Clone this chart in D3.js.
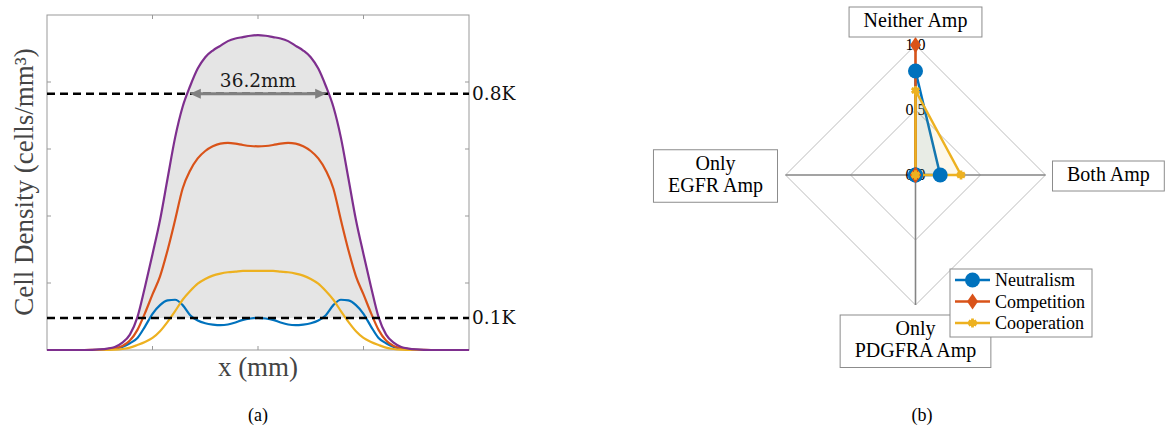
<!DOCTYPE html>
<html>
<head>
<meta charset="utf-8">
<script src="https://cdn.jsdelivr.net/npm/d3@7"></script>
<style>
  body { margin: 0; background: #fff; }
  svg { display: block; }
</style>
</head>
<body>
<svg id="chart" width="1166" height="429"></svg>
<script>
// ---- panel (a): density profiles along x (mm), density in plot units (K = 4.78)
const positions = [-56, -50, -46, -44, -42, -40, -38, -36, -34, -32, -30, -28, -26, -24, -22, -20, -18, -16, -14, -12, -10, -8, -6, -4, -2, 0,
  2, 4, 6, 8, 10, 12, 14, 16, 18, 20, 22, 24, 26, 28, 30, 32, 34, 36, 38, 40, 42, 44, 46, 50, 56];
const blueDensity = [0, 0, 0, 0, 0.002, 0.006, 0.02, 0.045, 0.1, 0.18, 0.35, 0.54, 0.67, 0.74, 0.75, 0.67, 0.52, 0.44, 0.40, 0.38, 0.37, 0.38, 0.41, 0.45, 0.47, 0.48,
  0.47, 0.45, 0.41, 0.38, 0.37, 0.38, 0.40, 0.44, 0.52, 0.67, 0.75, 0.74, 0.67, 0.54, 0.35, 0.18, 0.1, 0.045, 0.02, 0.006, 0.002, 0, 0, 0, 0];
const orangeDensity = [0, 0, 0, 0.001, 0.004, 0.012, 0.028, 0.06, 0.14, 0.3, 0.55, 0.83, 1.1, 1.49, 1.94, 2.41, 2.68, 2.86, 2.97, 3.04, 3.08, 3.09, 3.08, 3.06, 3.045, 3.04,
  3.045, 3.06, 3.08, 3.09, 3.08, 3.04, 2.97, 2.86, 2.68, 2.41, 1.94, 1.49, 1.1, 0.83, 0.55, 0.3, 0.14, 0.06, 0.028, 0.012, 0.004, 0.001, 0, 0, 0];
const yellowDensity = [0, 0, 0, 0, 0, 0.002, 0.005, 0.015, 0.035, 0.075, 0.12, 0.18, 0.28, 0.42, 0.58, 0.75, 0.88, 0.99, 1.06, 1.11, 1.14, 1.16, 1.17, 1.18, 1.18, 1.18,
  1.18, 1.18, 1.17, 1.16, 1.14, 1.11, 1.06, 0.99, 0.88, 0.75, 0.58, 0.42, 0.28, 0.18, 0.12, 0.075, 0.035, 0.015, 0.005, 0.002, 0, 0, 0, 0, 0];
const totalDensity = [0, 0, 0, 0.002, 0.008, 0.02, 0.045, 0.11, 0.23, 0.49, 0.94, 1.43, 1.94, 2.56, 3.17, 3.63, 3.94, 4.2, 4.37, 4.47, 4.54, 4.61, 4.65, 4.67, 4.69, 4.70,
  4.69, 4.67, 4.65, 4.61, 4.54, 4.47, 4.37, 4.2, 3.94, 3.63, 3.17, 2.56, 1.94, 1.43, 0.94, 0.49, 0.23, 0.11, 0.045, 0.02, 0.008, 0.002, 0, 0, 0];
const capacityK = 4.78;
const thresholds = [0.8, 0.1];
const thresholdLabels = ['0.8K', '0.1K'];
const xTicks = [-28, 0, 28];
const yTicks = [1, 2, 3, 4];
const widthLabel = '36.2mm';
const widthSpan = [-18.1, 18.1];

// ---- panel (b): radar
const radarAxes = ['Neither Amp', 'Both Amp', 'Only PDGFRA Amp', 'Only EGFR Amp'];
const neutralism = [0.8, 0.19, 0, 0];
const competition = [1.0, 0, 0, 0];
const cooperation = [0.65, 0.35, 0, 0];
const radarLevels = [0.5, 1.0];
const radarTicks = [0, 0.5, 1.0];

const BLUE = '#0072BD', ORANGE = '#D95319', YELLOW = '#EDB120', PURPLE = '#7E2F8E';
const SERIF = '"Liberation Serif", "Times New Roman", Tinos, Times, "DejaVu Serif", serif';
const SLAB = '"DejaVu Serif", serif';

const svg = d3.select('#chart');
svg.append('rect').attr('width', 1166).attr('height', 429).attr('fill', '#fff');

// ================= panel (a) =================
const box = { left: 47, right: 469, top: 15, bottom: 350 };
const x = d3.scaleLinear().domain([-56, 56]).range([box.left, box.right]);
const y = d3.scaleLinear().domain([0, 5]).range([box.bottom, box.top]);

const pa = svg.append('g');

// shaded region: under total curve, above 0.1K
pa.append('clipPath').attr('id', 'aboveLow')
  .append('rect')
  .attr('x', box.left).attr('y', box.top)
  .attr('width', box.right - box.left)
  .attr('height', y(0.1 * capacityK) - box.top);

const area = d3.area()
  .x((d, i) => x(positions[i]))
  .y0(y(0))
  .y1(d => y(d))
  .curve(d3.curveMonotoneX);

pa.append('path')
  .datum(totalDensity)
  .attr('d', area)
  .attr('fill', '#e5e5e5')
  .attr('clip-path', 'url(#aboveLow)');

// axis box and inward ticks
const axisColor = '#999';
pa.append('rect')
  .attr('x', box.left).attr('y', box.top)
  .attr('width', box.right - box.left).attr('height', box.bottom - box.top)
  .attr('fill', 'none').attr('stroke', axisColor).attr('stroke-width', 1);

xTicks.forEach(t => {
  pa.append('line').attr('x1', x(t)).attr('x2', x(t)).attr('y1', box.bottom).attr('y2', box.bottom - 4)
    .attr('stroke', axisColor);
  pa.append('line').attr('x1', x(t)).attr('x2', x(t)).attr('y1', box.top).attr('y2', box.top + 4)
    .attr('stroke', axisColor);
});
yTicks.forEach(t => {
  pa.append('line').attr('x1', box.left).attr('x2', box.left + 4).attr('y1', y(t)).attr('y2', y(t))
    .attr('stroke', axisColor);
  pa.append('line').attr('x1', box.right).attr('x2', box.right - 4).attr('y1', y(t)).attr('y2', y(t))
    .attr('stroke', axisColor);
});

const line = d3.line()
  .x((d, i) => x(positions[i]))
  .y(d => y(d))
  .curve(d3.curveMonotoneX);

[[blueDensity, BLUE], [orangeDensity, ORANGE], [yellowDensity, YELLOW], [totalDensity, PURPLE]]
  .forEach(([series, color]) => {
    pa.append('path')
      .datum(series)
      .attr('d', line)
      .attr('fill', 'none')
      .attr('stroke', color)
      .attr('stroke-width', 2.2);
  });

// threshold lines
thresholds.forEach((f, i) => {
  const yy = y(f * capacityK);
  pa.append('line')
    .attr('x1', box.left).attr('x2', box.right)
    .attr('y1', yy).attr('y2', yy)
    .attr('stroke', '#000').attr('stroke-width', 2.4)
    .attr('stroke-dasharray', '8,5');
  pa.append('text')
    .attr('x', box.right + 3).attr('y', yy + 6.5)
    .attr('font-family', SLAB)
    .attr('font-size', 18.5)
    .attr('fill', '#111')
    .text(thresholdLabels[i]);
});

// width arrow at 0.8K
const ya = y(0.8 * capacityK);
const xa0 = x(widthSpan[0]), xa1 = x(widthSpan[1]);
const head = 11, hw = 5;
pa.append('line')
  .attr('x1', xa0 + head - 1).attr('x2', xa1 - head + 1)
  .attr('y1', ya).attr('y2', ya)
  .attr('stroke', '#808080').attr('stroke-width', 3);
pa.append('path')
  .attr('d', `M${xa0},${ya}L${xa0 + head},${ya - hw}L${xa0 + head},${ya + hw}Z`)
  .attr('fill', '#808080');
pa.append('path')
  .attr('d', `M${xa1},${ya}L${xa1 - head},${ya - hw}L${xa1 - head},${ya + hw}Z`)
  .attr('fill', '#808080');
pa.append('text')
  .attr('x', x(0)).attr('y', 87)
  .attr('text-anchor', 'middle')
  .attr('font-family', SLAB)
  .attr('font-size', 18.5)
  .attr('fill', '#1a1a1a')
  .text(widthLabel);

// axis labels
pa.append('text')
  .attr('x', x(0)).attr('y', 376)
  .attr('text-anchor', 'middle')
  .attr('font-family', SERIF)
  .attr('font-size', 27)
  .attr('fill', '#444')
  .text('x (mm)');
pa.append('text')
  .attr('transform', 'translate(33,182) rotate(-90)')
  .attr('text-anchor', 'middle')
  .attr('font-family', SERIF)
  .attr('font-size', 27)
  .attr('fill', '#444')
  .text('Cell Density (cells/mm³)');

pa.append('text')
  .attr('x', x(0)).attr('y', 421)
  .attr('text-anchor', 'middle')
  .attr('font-family', SERIF)
  .attr('font-size', 18)
  .text('(a)');

// ================= panel (b) =================
const cx = 915.5, cy = 175, R = 130;
const r = d3.scaleLinear().domain([0, 1]).range([0, R]);
const angle = i => -Math.PI / 2 + i * Math.PI / 2;
const pt = (v, i) => [cx + r(v) * Math.cos(angle(i)), cy + r(v) * Math.sin(angle(i))];

const pb = svg.append('g');

radarLevels.forEach(lv => {
  pb.append('path')
    .attr('d', d3.line()(radarAxes.map((a, i) => pt(lv, i))) + 'Z')
    .attr('fill', 'none').attr('stroke', '#bdbdbd').attr('stroke-width', 1);
});
radarAxes.forEach((a, i) => {
  const [px, py] = pt(1, i);
  pb.append('line').attr('x1', cx).attr('y1', cy).attr('x2', px).attr('y2', py)
    .attr('stroke', '#858585').attr('stroke-width', 1.6);
});

radarTicks.forEach(t => {
  pb.append('text')
    .attr('x', cx).attr('y', cy - r(t) + 5)
    .attr('text-anchor', 'middle')
    .attr('font-family', SERIF)
    .attr('font-size', 16)
    .text(t.toFixed(1));
});

const asterisk = d3.symbolAsterisk || d3.symbolCross;
const seriesDefs = [
  { name: 'Neutralism', values: neutralism, color: BLUE, marker: 'circle' },
  { name: 'Competition', values: competition, color: ORANGE, marker: 'diamond' },
  { name: 'Cooperation', values: cooperation, color: YELLOW, marker: 'asterisk' }
];

function drawMarker(g, kind, color, px, py, scale) {
  if (kind === 'circle') {
    g.append('circle').attr('cx', px).attr('cy', py).attr('r', 7.5 * scale).attr('fill', color);
  } else if (kind === 'diamond') {
    const h = 8 * scale, w = 5.5 * scale;
    g.append('path')
      .attr('d', `M${px},${py - h}L${px + w},${py}L${px},${py + h}L${px - w},${py}Z`)
      .attr('fill', color);
  } else {
    g.append('circle').attr('cx', px).attr('cy', py).attr('r', 3.2 * scale).attr('fill', color);
    g.append('path')
      .attr('transform', `translate(${px},${py})`)
      .attr('d', d3.symbol().type(asterisk).size(55 * scale * scale)())
      .attr('fill', 'none').attr('stroke', color).attr('stroke-width', 2.8);
  }
}

seriesDefs.forEach(s => {
  pb.append('path')
    .attr('d', d3.line()(s.values.map((v, i) => pt(v, i))) + 'Z')
    .attr('fill', s.color).attr('fill-opacity', 0.09)
    .attr('stroke', s.color).attr('stroke-width', 2.5)
    .attr('stroke-linejoin', 'round');
});
seriesDefs.forEach(s => {
  s.values.forEach((v, i) => {
    const [px, py] = pt(v, i);
    drawMarker(pb, s.marker, s.color, px, py, 1);
  });
});

// axis name boxes
const gaps = [8, 7, 10, 8];
radarAxes.forEach((name, i) => {
  const lines = name.startsWith('Only') ? ['Only', name.replace('Only ', '')] : [name];
  const g = pb.append('g');
  const t = g.append('text').attr('text-anchor', 'middle')
    .attr('font-family', SERIF).attr('font-size', 20);
  lines.forEach((ln, k) => {
    t.append('tspan').attr('x', 0).attr('y', 20 + k * 22).text(ln);
  });
  const bb = t.node().getBBox();
  const bw = bb.width + 29;
  const bh = lines.length === 1 ? 30 : 52.5;
  g.insert('rect', 'text')
    .attr('x', -bw / 2).attr('y', 0).attr('width', bw).attr('height', bh)
    .attr('fill', '#fff').attr('stroke', '#8c8c8c').attr('stroke-width', 1);
  const [vx, vy] = pt(1, i);
  let tx, ty;
  if (i === 0) { tx = vx; ty = vy - gaps[i] - bh; }
  else if (i === 1) { tx = vx + gaps[i] + bw / 2; ty = vy - bh / 2 + 1; }
  else if (i === 2) { tx = vx; ty = vy + gaps[i]; }
  else { tx = vx - gaps[i] - bw / 2; ty = vy - bh / 2 + 1; }
  g.attr('transform', `translate(${tx},${ty})`);
});

// legend
const lg = pb.append('g').attr('transform', 'translate(950,269)');
lg.append('rect').attr('width', 142).attr('height', 68)
  .attr('fill', '#fff').attr('stroke', '#8c8c8c').attr('stroke-width', 1);
seriesDefs.forEach((s, k) => {
  const ry = 11 + k * 21.5;
  lg.append('line').attr('x1', 5).attr('x2', 40).attr('y1', ry).attr('y2', ry)
    .attr('stroke', s.color).attr('stroke-width', 2.5);
  drawMarker(lg, s.marker, s.color, 22.5, ry, 1);
  lg.append('text').attr('x', 45).attr('y', ry + 6)
    .attr('font-family', SERIF)
    .attr('font-size', 18)
    .text(s.name);
});

pb.append('text')
  .attr('x', 922).attr('y', 421)
  .attr('text-anchor', 'middle')
  .attr('font-family', SERIF)
  .attr('font-size', 18)
  .text('(b)');
</script>
</body>
</html>
